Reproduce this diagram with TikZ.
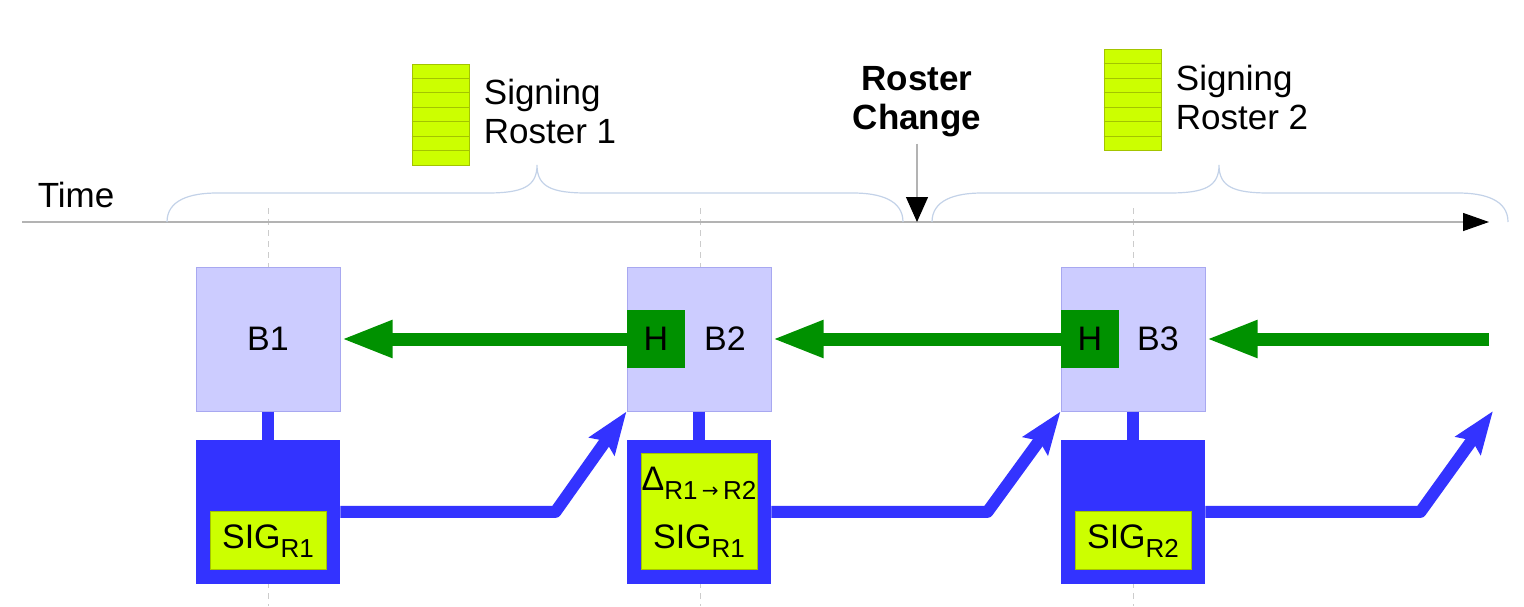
\documentclass[tikz,border=0pt]{standalone}
\usepackage{fontspec}
\setmainfont{Liberation Sans}
\newfontfamily\arrowfont{DejaVu Sans}
\usetikzlibrary{arrows.meta, positioning, calc}
\definecolor{blockfill}{HTML}{CCCCFF}
\definecolor{blockedge}{HTML}{A8A8F0}
\definecolor{hashgreen}{HTML}{009100}
\definecolor{sigblue}{HTML}{3333FF}
\definecolor{sigyellow}{HTML}{CCFF00}
\definecolor{sigedge}{HTML}{A3C400}
\definecolor{bracecol}{HTML}{C3D2E8}
\definecolor{axisgray}{HTML}{B3B3B3}
\definecolor{guidegray}{HTML}{CCCCCC}
\newcommand{\sbs}[1]{\raisebox{-4.5pt}{\fontsize{13}{13}\selectfont #1}}

\begin{document}
\begin{tikzpicture}[x=0.5pt,y=-0.5pt,font=\fontsize{17.5}{19.5}\selectfont]

	\tikzset{block/.style={draw=blockedge, line width=0.5pt, fill=blockfill,
			minimum width=72pt, minimum height=72pt, inner sep=0pt,
			font=\fontsize{17}{17}\selectfont}}
	\tikzset{hash/.style={fill=hashgreen, minimum size=29pt, inner sep=0pt,
			font=\fontsize{17}{17}\selectfont}}
	\tikzset{sigbox/.style={fill=sigblue, minimum size=72pt, inner sep=0pt}}
	\tikzset{sigin/.style={draw=sigedge, line width=0.5pt, fill=sigyellow,
			inner sep=0pt, font=\fontsize{17}{29}\selectfont}}
	\tikzset{roster/.style={draw=sigedge, line width=0.5pt, fill=sigyellow,
			minimum width=28.5pt, minimum height=50.5pt, inner sep=0pt}}
	\tikzset{stripe/.style={draw=sigedge, line width=0.5pt}}
	\tikzset{brace/.style={draw=bracecol, line width=0.6pt}}
	\tikzset{guide/.style={draw=guidegray, line width=0.5pt, dash pattern=on 3pt off 2.5pt}}
	\tikzset{axis/.style={draw=axisgray, line width=0.6pt,
			-{Triangle[length=13pt,width=9pt,color=black]}}}
	\tikzset{marker/.style={draw=axisgray, line width=0.6pt,
			-{Triangle[length=12.5pt,width=11pt,color=black]}}}
	\tikzset{stem/.style={draw=sigblue, line width=6pt}}
	\tikzset{chain/.style={draw=hashgreen, line width=6.5pt,
			-{Triangle[length=26pt,width=17pt]}}}
	\tikzset{sigarrow/.style={draw=sigblue, line width=6pt, line join=round,
			-{Stealth[length=21pt,width=15pt,inset=3pt]}}}

	\useasboundingbox (0,0) rectangle (1524,606);

	% guides and time axis
	\foreach \x in {268,700,1133}
		\draw[guide] (\x,208) -- (\x,606);
	\coordinate (t0) at (22,222);
	\coordinate (t1) at (1489,222);
	\draw[axis] (t0) -- (t1);
	\node (time) at (76,195) {Time};

	% rosters
	\draw[brace] (167,222) .. controls (167,200) and (190,193) .. (217,193) -- (487,193)
		.. controls (522,193) and (537,187) .. (537,165)
		.. controls (537,187) and (552,193) .. (587,193) -- (853,193)
		.. controls (880,193) and (903,200) .. (903,222);
	\draw[brace] (932,222) .. controls (932,200) and (955,193) .. (982,193) -- (1169,193)
		.. controls (1204,193) and (1219,187) .. (1219,165)
		.. controls (1219,187) and (1234,193) .. (1269,193) -- (1458,193)
		.. controls (1485,193) and (1508,200) .. (1508,222);

	\node[roster] (R1) at (440.5,114.5) {};
	\node[roster] (R2) at (1132.5,100) {};
	\foreach \s in {R1,R2}
		\foreach \i in {1,...,6}
			\draw[stripe] ($(\s.north west)!\i/7!(\s.south west)$) -- ($(\s.north east)!\i/7!(\s.south east)$);
	\node[right=7pt of R1, yshift=1.5pt, align=left, inner sep=0pt] (R1txt) {Signing\\Roster 1};
	\node[right=7pt of R2, yshift=1.5pt, align=left, inner sep=0pt] (R2txt) {Signing\\Roster 2};

	\node[font=\fontsize{17.5}{19.5}\selectfont\bfseries, align=center, inner sep=3pt] (RC) at (917,102) {Roster\\Change};
	\coordinate (rcpt) at (917,222);
	\draw[marker] (RC.south) -- (rcpt);

	% blocks
	\node[block] (B1) at (268,339) {B1};
	\node[block, right=143pt of B1, label={[xshift=13pt, font=\fontsize{17}{17}\selectfont]center:B2}] (B2) {};
	\node[block, right=144.5pt of B2, label={[xshift=12.5pt, font=\fontsize{17}{17}\selectfont]center:B3}] (B3) {};
	\node[hash, anchor=west] (H2) at (B2.west) {H};
	\node[hash, anchor=west] (H3) at (B3.west) {H};

	\node[sigbox, below=14pt of B1] (S1) {};
	\node[sigbox, below=14pt of B2] (S2) {};
	\node[sigbox, below=14pt of B3] (S3) {};
	\node[sigin, minimum width=58pt, minimum height=29pt, above=7pt of S1.south] (Y1) {SIG\sbs{R1}};
	\node[sigin, minimum size=58pt, align=center] (Y2) at (S2) {Δ\sbs{R1\,{\arrowfont\fontsize{10}{10}\selectfont\raisebox{0.8pt}{→}}\,R2}\\SIG\sbs{R1}};
	\node[sigin, minimum width=58pt, minimum height=29pt, above=7pt of S3.south] (Y3) {SIG\sbs{R2}};

	\foreach \n in {1,2,3}
		\draw[stem] (B\n.south) -- (S\n.north);

	% links
	\coordinate (in3) at (1489,339);
	\coordinate (out3) at (1493,411);
	\draw[chain] (H2.west) -- (B1.east);
	\draw[chain] (H3.west) -- (B2.east);
	\draw[chain] (in3) -- (B3.east);
	\draw[sigarrow] (S1.east) -- ++(215,0) -- (B2.south west);
	\draw[sigarrow] (S2.east) -- ++(216,0) -- (B3.south west);
	\draw[sigarrow] (S3.east) -- ++(215,0) -- (out3);
\end{tikzpicture}
\end{document}
